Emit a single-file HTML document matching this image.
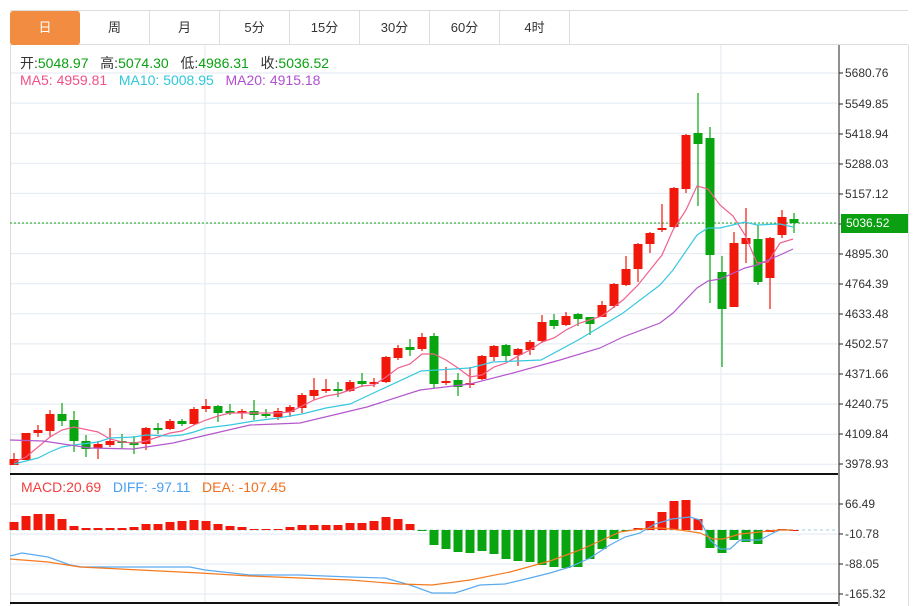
<!DOCTYPE html>
<html><head><meta charset="utf-8">
<style>
html,body{margin:0;padding:0;background:#fff;}
body{width:916px;height:606px;position:relative;overflow:hidden;font-family:"Liberation Sans","Noto Sans CJK SC",sans-serif;}
.tabs{position:absolute;left:10px;top:10px;height:35px;width:898px;border-top:1px solid #ddd;border-bottom:1px solid #ddd;box-sizing:border-box;}
.tab{position:absolute;top:0;height:34px;width:70px;border-right:1px solid #ddd;box-sizing:border-box;text-align:center;line-height:34px;font-size:13px;color:#333;}
.tab.on{background:#f28c40;color:#fff;border-radius:3px;border-right:none;}
.t{position:absolute;font-size:14px;white-space:nowrap;}
</style></head><body>
<div class="tabs">
<div class="tab on" style="left:0">日</div>
<div class="tab" style="left:70px">周</div>
<div class="tab" style="left:140px">月</div>
<div class="tab" style="left:210px">5分</div>
<div class="tab" style="left:280px">15分</div>
<div class="tab" style="left:350px">30分</div>
<div class="tab" style="left:420px">60分</div>
<div class="tab" style="left:490px">4时</div>
</div>
<svg id="s" width="916" height="606" style="position:absolute;left:0;top:0" xmlns="http://www.w3.org/2000/svg"></svg>
<div class="t" style="left:20px;top:53px;color:#333">开:<span style="color:#0aa012">5048.97</span>&nbsp;&nbsp; 高:<span style="color:#0aa012">5074.30</span>&nbsp;&nbsp; 低:<span style="color:#0aa012">4986.31</span>&nbsp;&nbsp; 收:<span style="color:#0aa012">5036.52</span></div>
<div class="t" style="left:20px;top:72px"><span style="color:#f0508a">MA5: 4959.81</span>&nbsp;&nbsp; <span style="color:#2ec8dc">MA10: 5008.95</span>&nbsp;&nbsp; <span style="color:#b050d0">MA20: 4915.18</span></div>
<div class="t" style="left:21px;top:479px"><span style="color:#f04040">MACD:20.69</span>&nbsp;&nbsp; <span style="color:#4aa0f0">DIFF: -97.11</span>&nbsp;&nbsp; <span style="color:#f07020">DEA: -107.45</span></div>
<div class="t" style="left:845px;top:66px;font-size:12px;color:#333">5680.76</div>
<div class="t" style="left:845px;top:97px;font-size:12px;color:#333">5549.85</div>
<div class="t" style="left:845px;top:127px;font-size:12px;color:#333">5418.94</div>
<div class="t" style="left:845px;top:157px;font-size:12px;color:#333">5288.03</div>
<div class="t" style="left:845px;top:187px;font-size:12px;color:#333">5157.12</div>
<div class="t" style="left:845px;top:247px;font-size:12px;color:#333">4895.30</div>
<div class="t" style="left:845px;top:277px;font-size:12px;color:#333">4764.39</div>
<div class="t" style="left:845px;top:307px;font-size:12px;color:#333">4633.48</div>
<div class="t" style="left:845px;top:337px;font-size:12px;color:#333">4502.57</div>
<div class="t" style="left:845px;top:367px;font-size:12px;color:#333">4371.66</div>
<div class="t" style="left:845px;top:397px;font-size:12px;color:#333">4240.75</div>
<div class="t" style="left:845px;top:427px;font-size:12px;color:#333">4109.84</div>
<div class="t" style="left:845px;top:457px;font-size:12px;color:#333">3978.93</div>
<div class="t" style="left:841px;top:214px;width:67px;height:19px;background:#0aa012;color:#fff;font-size:12px;line-height:19px;padding-left:5px;box-sizing:border-box">5036.52</div>
<div class="t" style="left:845px;top:497px;font-size:12px;color:#333">66.49</div>
<div class="t" style="left:845px;top:527px;font-size:12px;color:#333">-10.78</div>
<div class="t" style="left:845px;top:557px;font-size:12px;color:#333">-88.05</div>
<div class="t" style="left:845px;top:587px;font-size:12px;color:#333">-165.32</div>
<script>
var s=document.getElementById('s'),h='';
function L(x1,y1,x2,y2,c,w,d){h+='<line x1="'+x1+'" y1="'+y1+'" x2="'+x2+'" y2="'+y2+'" stroke="'+c+'" stroke-width="'+(w||1)+'"'+(d?' stroke-dasharray="'+d+'"':'')+'/>';}
function P(pts,c){h+='<polyline fill="none" stroke="'+c+'" stroke-width="1.2" points="'+pts.map(function(p){return p.join(',')}).join(' ')+'"/>';}
for(var k=0;k<14;k++){var y=73+k*30.1;L(10,y,838,y,'#e2eaf2');}
[504,534,564,594].forEach(function(y){L(10,y,838,y,'#e2eaf2');});
L(205,45,205,603,'#e2eaf2');L(721,45,721,603,'#e2eaf2');
L(10.5,45,10.5,606,'#ddd');L(908.5,45,908.5,606,'#ddd');
L(10,474,838,474,'#111',2);L(10,603,838,603,'#111',2);
L(839,45,839,606,'#222',1);
[73,104,134,164,194,224,254,284,314,344,374,404,434,464,504,534,564,594].forEach(function(y){L(839,y,843,y,'#222');});
L(10,223,838,223,'#1aa51a',1,'2,2');
L(10,530,838,530,'#9cd0e0',1,'3,3');
var R='#f0180a',G='#08a510';
var C=[[459,465,453,465,R],[433,460,433,460,R],[430,433,425,437,R],[414,431,410,437,R],[414,421,403,426,G],[420,441,411,452,G],[441,449,435,457,G],[444,448,441,459,R],[441,445,428,447,R],[441,443,434,449,G],[442,445,436,454,G],[428,444,427,450,R],[428,430,423,434,G],[421,429,419,430,R],[421,424,419,426,G],[409,424,407,425,R],[406,409,399,412,R],[406,413,405,422,G],[411,413,404,415,G],[411,413,409,419,R],[411,415,400,420,G],[414,416,409,418,G],[411,417,408,420,R],[407,412,405,417,R],[395,408,393,413,R],[390,396,378,400,R],[389,391,379,393,R],[389,391,382,397,G],[382,391,380,392,R],[381,384,373,387,G],[382,384,378,387,R],[357,382,356,383,R],[348,358,345,360,R],[347,350,339,356,G],[337,349,333,351,R],[336,384,333,388,G],[381,383,367,385,R],[380,387,373,396,G],[383,385,367,388,R],[356,379,355,380,R],[346,357,345,361,R],[345,356,344,362,G],[349,355,348,366,R],[342,350,340,355,R],[322,341,315,343,R],[320,326,314,329,G],[316,325,312,326,R],[314,319,313,326,G],[317,324,317,335,G],[305,317,301,317,R],[284,306,283,308,R],[269,285,256,286,R],[244,269,243,282,R],[233,244,232,253,R],[228,230,204,232,R],[188,227,187,228,R],[135,189,134,193,R],[133,144,93,206,G],[138,255,127,303,G],[272,309,256,367,G],[243,307,232,307,R],[238,244,208,263,R],[239,282,225,285,G],[238,278,237,309,R],[217,235,210,238,R],[219,223,213,233,G]];
C.forEach(function(c,i){var x=14+i*12;L(x,c[2],x,c[3],c[4],1.2);h+='<rect x="'+(x-4.5)+'" y="'+c[0]+'" width="9" height="'+Math.max(1.5,c[1]-c[0])+'" fill="'+c[4]+'"/>';});
P([[14,462],[26,457],[50,437],[62,430],[74,427],[98,432],[110,439],[122,442],[134,443],[146,441],[158,437],[170,433],[182,431],[194,425],[206,420],[218,416],[230,413],[254,413],[278,413],[290,412],[302,406],[314,400],[326,396],[338,394],[350,390],[362,386],[374,385],[386,377],[398,368],[410,364],[422,354],[434,354],[446,360],[458,368],[470,377],[482,375],[494,367],[506,363],[518,356],[530,350],[542,342],[554,338],[566,330],[580,323],[602,316],[623,300],[638,285],[650,270],[662,255],[673,230],[686,210],[697,186],[708,189],[720,205],[733,216],[745,235],[757,263],[768,262],[780,243],[793,239]],'#f0608e');
P([[14,464],[38,458],[50,452],[62,447],[74,445],[98,442],[110,438],[134,437],[146,435],[170,436],[182,435],[194,432],[206,428],[230,425],[254,421],[278,418],[302,414],[326,408],[350,404],[380,390],[421,371],[470,368],[493,362],[541,360],[580,339],[623,313],[660,285],[673,270],[697,235],[708,228],[720,228],[745,222],[757,225],[780,224],[793,227]],'#38c8e0');
P([[10,440],[43,441],[90,448],[133,449],[173,443],[207,435],[250,425],[300,423],[367,407],[420,390],[470,384],[513,373],[560,360],[600,348],[623,337],[660,323],[673,313],[697,288],[708,281],[720,279],[745,268],[757,265],[768,260],[780,255],[793,249]],'#b458cc');
var M=[522,516,514,514,519,526,528,528,528,528,527,524,524,522,521,520,521,524,526,527,529,529,529,527,525,525,525,525,523,523,521,517,519,524,531,545,549,552,553,551,554,559,561,562,565,567,568,567,559,549,539,531,528,521,512,501,500,519,548,553,540,542,544,532,529,530];
M.forEach(function(y,i){var x=14+i*12;var col=(i>=34&&i<=51)||(i>=58&&i<=62)?G:R;if(i==52)col=R;h+='<rect x="'+(x-4.5)+'" y="'+Math.min(y,530)+'" width="9" height="'+Math.max(1,Math.abs(y-530))+'" fill="'+col+'"/>';});
P([[10,556],[22,553],[48,557],[70,565],[82,567],[140,567],[190,567],[205,570],[250,575],[300,575],[350,577],[385,578],[410,585],[432,593],[455,593],[480,585],[505,584],[530,578],[550,573],[570,567],[590,558],[610,545],[625,537],[640,533],[655,524],[672,519],[690,517],[700,520],[710,540],[720,549],[730,549],[740,540],[760,540],[773,533],[780,530],[793,530]],'#5aaaf0');
P([[10,559],[48,562],[80,567],[200,573],[250,576],[350,580],[400,584],[432,585],[470,580],[510,572],[550,561],[580,550],[600,541],[620,532],[640,529],[660,528],[680,530],[700,533],[713,539],[723,539],[740,534],[760,532],[780,530],[793,530]],'#f47a20');
s.innerHTML=h;
</script>
</body></html>
